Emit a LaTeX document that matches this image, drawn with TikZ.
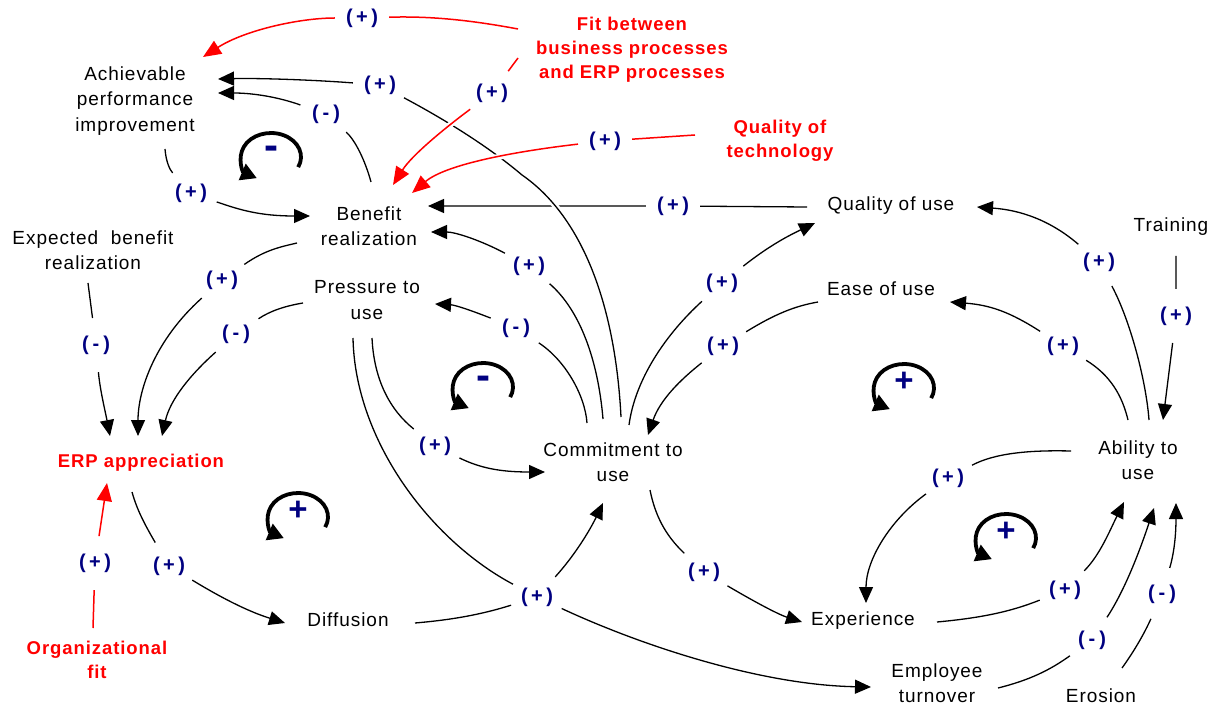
\documentclass[tikz,border=0pt]{standalone}
\usepackage{fontspec}
\setmainfont{Liberation Sans}[LetterSpace=5]
\usetikzlibrary{arrows.meta,calc}
\definecolor{signblue}{RGB}{0,0,128}
\definecolor{factorred}{RGB}{255,0,0}
\newcommand\polp{(\kern3.5pt+\kern3.5pt)}
\newcommand\polm{(\kern4pt-\kern4pt)}
\tikzset{
  var/.style={align=center,inner sep=0pt,font=\fontsize{19}{25.5}\selectfont},
  extvar/.style={align=center,inner sep=0pt,text=factorred,font=\fontsize{18.5}{24}\selectfont\bfseries},
  pol/.style={circle,minimum size=54pt,inner sep=0pt,text=signblue,font=\fontsize{20}{22}\selectfont\bfseries},
  conn/.style={line width=1.3pt,-{Triangle[length=16pt,width=14pt]}},
  extconn/.style={draw=factorred,line width=1.5pt,-{Triangle[length=18pt,width=15pt]}},
  halo/.style={preaction={draw=white,line width=6pt,arrows=-}},
  loopminus/.style={inner sep=0pt,text=signblue,font=\fontsize{42}{42}\selectfont\bfseries,text height=0.5em,text depth=0pt},
  loopplus/.style={inner sep=0pt,text=signblue,font=\fontsize{33}{33}\selectfont\bfseries,text height=0.71em,text depth=0pt},
  loopline/.style={line width=3.8pt,-{Triangle[length=16pt,width=17pt]}},
}
\begin{document}
\begin{tikzpicture}[x=1pt,y=-1pt]
\useasboundingbox (0,0) rectangle (1220,708);

% variables
\node[var] (API) at (135,101) {Achievable\\performance\\improvement};
\node[var] (BR) at (369,226) {Benefit\\realization};
\node[var] (EBR) at (93,250) {Expected~ benefit\\realization};
\node[var] (PU) at (367,300) {Pressure to\\use};
\node[extvar] (ERP) at (141,463) {ERP appreciation};
\node[extvar] (OF) at (97,660) {Organizational\\fit};
\node[var] (DIF) at (348,620) {Diffusion};
\node[var] (CU) at (613,462) {Commitment to\\use};
\node[var] (EXP) at (863,621) {Experience};
\node[var] (ET) at (937,683) {Employee\\turnover};
\node[var] (ER) at (1101,696) {Erosion};
\node[var] (AU) at (1138,460) {Ability to\\use};
\node[var] (QU) at (891,206) {Quality of use};
\node[var] (EU) at (881,289) {Ease of use};
\node[var] (TR) at (1171,227) {Training};
\node[extvar] (FIT) at (632,50) {Fit between\\business processes\\and ERP processes};
\node[extvar] (QT) at (780,141) {Quality of\\technology};

% polarity labels
\node[pol] (s1) at (362,18) {\polp};
\node[pol] (s2) at (380,85) {\polp};
\node[pol] (s3) at (326,114) {\polm};
\node[pol] (s4) at (492,93) {\polp};
\node[pol] (s5) at (605,141) {\polp};
\node[pol] (s6) at (191,193) {\polp};
\node[pol] (s7) at (673,206) {\polp};
\node[pol] (s8) at (222,280) {\polp};
\node[pol] (s9) at (529,266) {\polp};
\node[pol] (s10) at (722,283) {\polp};
\node[pol] (s11) at (1099,262) {\polp};
\node[pol] (s12) at (236,334) {\polm};
\node[pol] (s13) at (516,328) {\polm};
\node[pol] (s14) at (723,346) {\polp};
\node[pol] (s15) at (1063,346) {\polp};
\node[pol] (s16) at (1176,316) {\polp};
\node[pol] (s17) at (96,345) {\polm};
\node[pol] (s18) at (435,446) {\polp};
\node[pol] (s19) at (948,478) {\polp};
\node[pol] (s20) at (95,563) {\polp};
\node[pol] (s21) at (169,566) {\polp};
\node[pol] (s22) at (704,572) {\polp};
\node[pol] (s23) at (537,597) {\polp};
\node[pol] (s24) at (1065,590) {\polp};
\node[pol] (s25) at (1162,594) {\polm};
\node[pol] (s26) at (1092,640) {\polm};

% loop markers
\node[loopminus] (loopA) at (271,157) {-};
\node[loopminus] (loopB) at (483,387) {-};
\node[loopplus] (loopC) at (298,517) {+};
\node[loopplus] (loopD) at (904,388) {+};
\node[loopplus] (loopE) at (1006,538) {+};
\foreach \lp in {loopA,loopB,loopC,loopD,loopE}
  \draw[loopline] (\lp.center) ++(-25:30pt and 24pt)
    arc[start angle=-25,end angle=242,x radius=30pt,y radius=24pt];

% quality of use -> benefit realization (crossed by the commitment line)
\draw[conn] ([shift={(-84,1)}]QU.center) -- (s7) -- ([shift={(59,-20)}]BR.center);

% commitment to use -> achievable performance improvement
\draw[conn,halo] ([shift={(8,-45)}]CU.center) .. controls (615,300) and (580,215) .. (522,175)
  .. controls (495,152) and (455,125) .. (s2)
  .. controls (315,80) and (260,78) .. ([shift={(83,-22)}]API.center);

% benefit realization -> achievable performance improvement
\draw[conn] ([shift={(2,-44)}]BR.center) .. controls (365,160) and (355,140) .. (s3)
  .. controls (275,96) and (250,93) .. ([shift={(83,-8)}]API.center);

% achievable performance improvement -> benefit realization
\draw[conn] ([shift={(30,48)}]API.center) .. controls (166,162) and (170,170) .. (s6)
  .. controls (240,210) and (260,216) .. ([shift={(-59,-10)}]BR.center);

% commitment to use -> benefit realization
\draw[conn] ([shift={(-10,-43)}]CU.center) .. controls (598,360) and (580,310) .. (s9)
  .. controls (480,240) and (455,232) .. ([shift={(62,6)}]BR.center);

% commitment to use -> pressure to use
\draw[conn] ([shift={(-26,-39)}]CU.center) .. controls (585,395) and (565,360) .. (s13)
  .. controls (470,310) and (455,305) .. ([shift={(68,4)}]PU.center);

% benefit realization -> ERP appreciation
\draw[conn] ([shift={(-72,17)}]BR.center) .. controls (280,247) and (265,250) .. (s8)
  .. controls (155,340) and (138,390) .. ([shift={(-3,-27)}]ERP.center);

% pressure to use -> ERP appreciation
\draw[conn] ([shift={(-64,3)}]PU.center) .. controls (285,306) and (270,311) .. (s12)
  .. controls (190,375) and (170,400) .. ([shift={(21,-27)}]ERP.center);

% expected benefit realization -> ERP appreciation
\draw[conn] ([shift={(-5,33)}]EBR.center) -- (s17)
  .. controls (100,390) and (105,410) .. ([shift={(-31,-27)}]ERP.center);

% ERP appreciation -> diffusion
\draw[conn] ([shift={(-9,29)}]ERP.center) .. controls (137,510) and (145,525) .. (s21)
  .. controls (225,600) and (250,612) .. ([shift={(-63,3)}]DIF.center);

% pressure to use -> employee turnover
\draw[conn] ([shift={(-14,38)}]PU.center) .. controls (355,440) and (430,540) .. (s23)
  .. controls (640,645) and (760,685) .. ([shift={(-66,4)}]ET.center);

% pressure to use -> commitment to use
\draw[conn] ([shift={(5,38)}]PU.center) .. controls (374,380) and (390,410) .. (s18)
  .. controls (480,468) and (500,472) .. ([shift={(-68,10)}]CU.center);

% diffusion -> commitment to use
\draw[conn] ([shift={(67,3)}]DIF.center) .. controls (450,620) and (480,615) .. (s23)
  .. controls (575,555) and (590,530) .. ([shift={(-10,41)}]CU.center);

% commitment to use -> quality of use
\draw[conn] ([shift={(16,-37)}]CU.center) .. controls (635,380) and (665,335) .. (s10)
  .. controls (770,245) and (790,235) .. ([shift={(-76,17)}]QU.center);

% ease of use -> commitment to use
\draw[conn] ([shift={(-63,13)}]EU.center) .. controls (795,306) and (775,314) .. (s14)
  .. controls (680,380) and (660,400) .. ([shift={(35,-27)}]CU.center);

% commitment to use -> experience
\draw[conn] ([shift={(37,28)}]CU.center) .. controls (655,515) and (665,535) .. (s22)
  .. controls (760,605) and (780,615) .. ([shift={(-61,1)}]EXP.center);

% ability to use -> quality of use
\draw[conn] ([shift={(11,-40)}]AU.center) .. controls (1146,380) and (1130,320) .. (s11)
  .. controls (1050,220) and (1020,210) .. ([shift={(86,1)}]QU.center);

% ability to use -> ease of use
\draw[conn] ([shift={(-10,-40)}]AU.center) .. controls (1122,395) and (1110,375) .. (s15)
  .. controls (1010,312) and (990,305) .. ([shift={(69,13)}]EU.center);

% training -> ability to use
\draw[conn] ([shift={(5,29)}]TR.center) -- (s16) -- ([shift={(25,-40)}]AU.center);

% ability to use -> experience
\draw[conn] ([shift={(-67,-9)}]AU.center) .. controls (1030,450) and (995,453) .. (s19)
  .. controls (890,520) and (866,560) .. ([shift={(3,-18)}]EXP.center);

% experience -> ability to use
\draw[conn] ([shift={(74,1)}]EXP.center) .. controls (980,618) and (1010,612) .. (s24)
  .. controls (1100,555) and (1110,530) .. ([shift={(-14,42)}]AU.center);

% employee turnover -> ability to use
\draw[conn] ([shift={(61,5)}]ET.center) .. controls (1030,680) and (1050,670) .. (s26)
  .. controls (1125,590) and (1140,550) .. ([shift={(16,48)}]AU.center);

% erosion -> ability to use
\draw[conn] ([shift={(21,-28)}]ER.center) .. controls (1135,650) and (1145,632) .. (s25)
  .. controls (1175,550) and (1176,530) .. ([shift={(38,43)}]AU.center);

% external factors (red)
\draw[extconn,halo] ([shift={(-114,-21)}]FIT.center) .. controls (470,20) and (430,16) .. (s1)
  .. controls (300,18) and (245,30) .. ([shift={(68,-44)}]API.center);
\draw[extconn,halo] ([shift={(-114,8)}]FIT.center) -- (s4)
  .. controls (445,128) and (412,155) .. ([shift={(24,-41)}]BR.center);
\draw[extconn,halo] ([shift={(-85,-6)}]QT.center) -- (s5)
  .. controls (510,152) and (445,165) .. ([shift={(43,-33)}]BR.center);
\draw[extconn] ([shift={(-4,-32)}]OF.center) -- (s20) -- ([shift={(-34,20)}]ERP.center);
\end{tikzpicture}
\end{document}
